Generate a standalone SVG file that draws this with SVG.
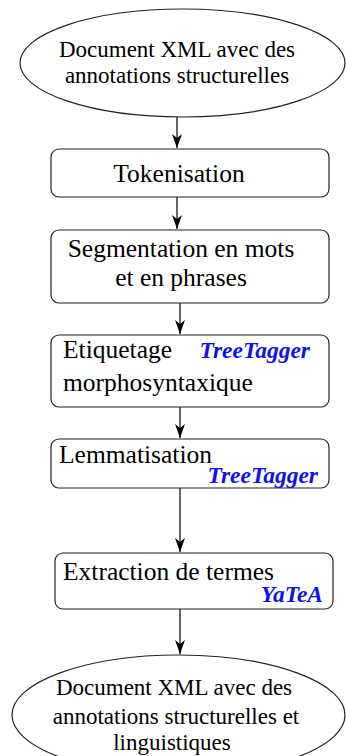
<svg xmlns="http://www.w3.org/2000/svg" width="346" height="756" viewBox="0 0 346 756">
<defs>
<style>
.n{fill:#fff;stroke:#222;stroke-width:1.2}
.t{font-family:"Liberation Serif",serif;font-size:25.5px;fill:#000}
.te{font-family:"Liberation Serif",serif;font-size:23px;fill:#000}
.tool{font-family:"Liberation Serif",serif;font-size:23.5px;font-weight:bold;font-style:italic;fill:#1010f0}
.c{stroke:#000;stroke-width:1.2;fill:none;marker-end:url(#ah)}
</style>
<marker id="ah" viewBox="0 0 14 10" refX="14" refY="5" markerWidth="14" markerHeight="10" markerUnits="userSpaceOnUse" orient="auto">
<path d="M0,0 L14,5 L0,10 L4,5 Z" fill="#000"/>
</marker>
</defs>
<g id="connectors">
<path class="c" d="M177,117 V148"/>
<path class="c" d="M177,197 V229"/>
<path class="c" d="M180,303 V334"/>
<path class="c" d="M180,407 V438"/>
<path class="c" d="M180,488 V552"/>
<path class="c" d="M180,609 V654"/>
</g>
<g id="input">
<ellipse class="n" cx="182.5" cy="63" rx="162.5" ry="54"/>
<text class="te" x="177" y="57" text-anchor="middle">Document XML avec des</text>
<text class="te" x="177" y="83" text-anchor="middle">annotations structurelles</text>
</g>
<g id="tokenisation">
<rect class="n" x="51" y="149" width="278" height="48" rx="8"/>
<text class="t" x="179" y="182" text-anchor="middle">Tokenisation</text>
</g>
<g id="segmentation">
<rect class="n" x="51" y="230" width="278" height="73" rx="8"/>
<text class="t" x="181" y="257" text-anchor="middle">Segmentation en mots</text>
<text class="t" x="181" y="286" text-anchor="middle">et en phrases</text>
</g>
<g id="etiquetage">
<rect class="n" x="51" y="335" width="278" height="72" rx="8"/>
<text class="t" x="63" y="358">Etiquetage</text>
<text class="t" x="63" y="391">morphosyntaxique</text>
<text class="tool" x="310" y="358" text-anchor="end">TreeTagger</text>
</g>
<g id="lemmatisation">
<rect class="n" x="51" y="439" width="278" height="49" rx="8"/>
<text class="t" x="59" y="463">Lemmatisation</text>
<text class="tool" x="318" y="483" text-anchor="end">TreeTagger</text>
</g>
<g id="extraction">
<rect class="n" x="55" y="553" width="278" height="56" rx="8"/>
<text class="t" x="63" y="580">Extraction de termes</text>
<text class="tool" x="323" y="602" text-anchor="end">YaTeA</text>
</g>
<g id="output">
<ellipse class="n" cx="178.5" cy="715" rx="166.5" ry="60"/>
<text class="te" x="174" y="695" text-anchor="middle">Document XML avec des</text>
<text class="te" x="176" y="724" text-anchor="middle">annotations structurelles et</text>
<text class="te" x="172" y="750" text-anchor="middle">linguistiques</text>
</g>
</svg>
